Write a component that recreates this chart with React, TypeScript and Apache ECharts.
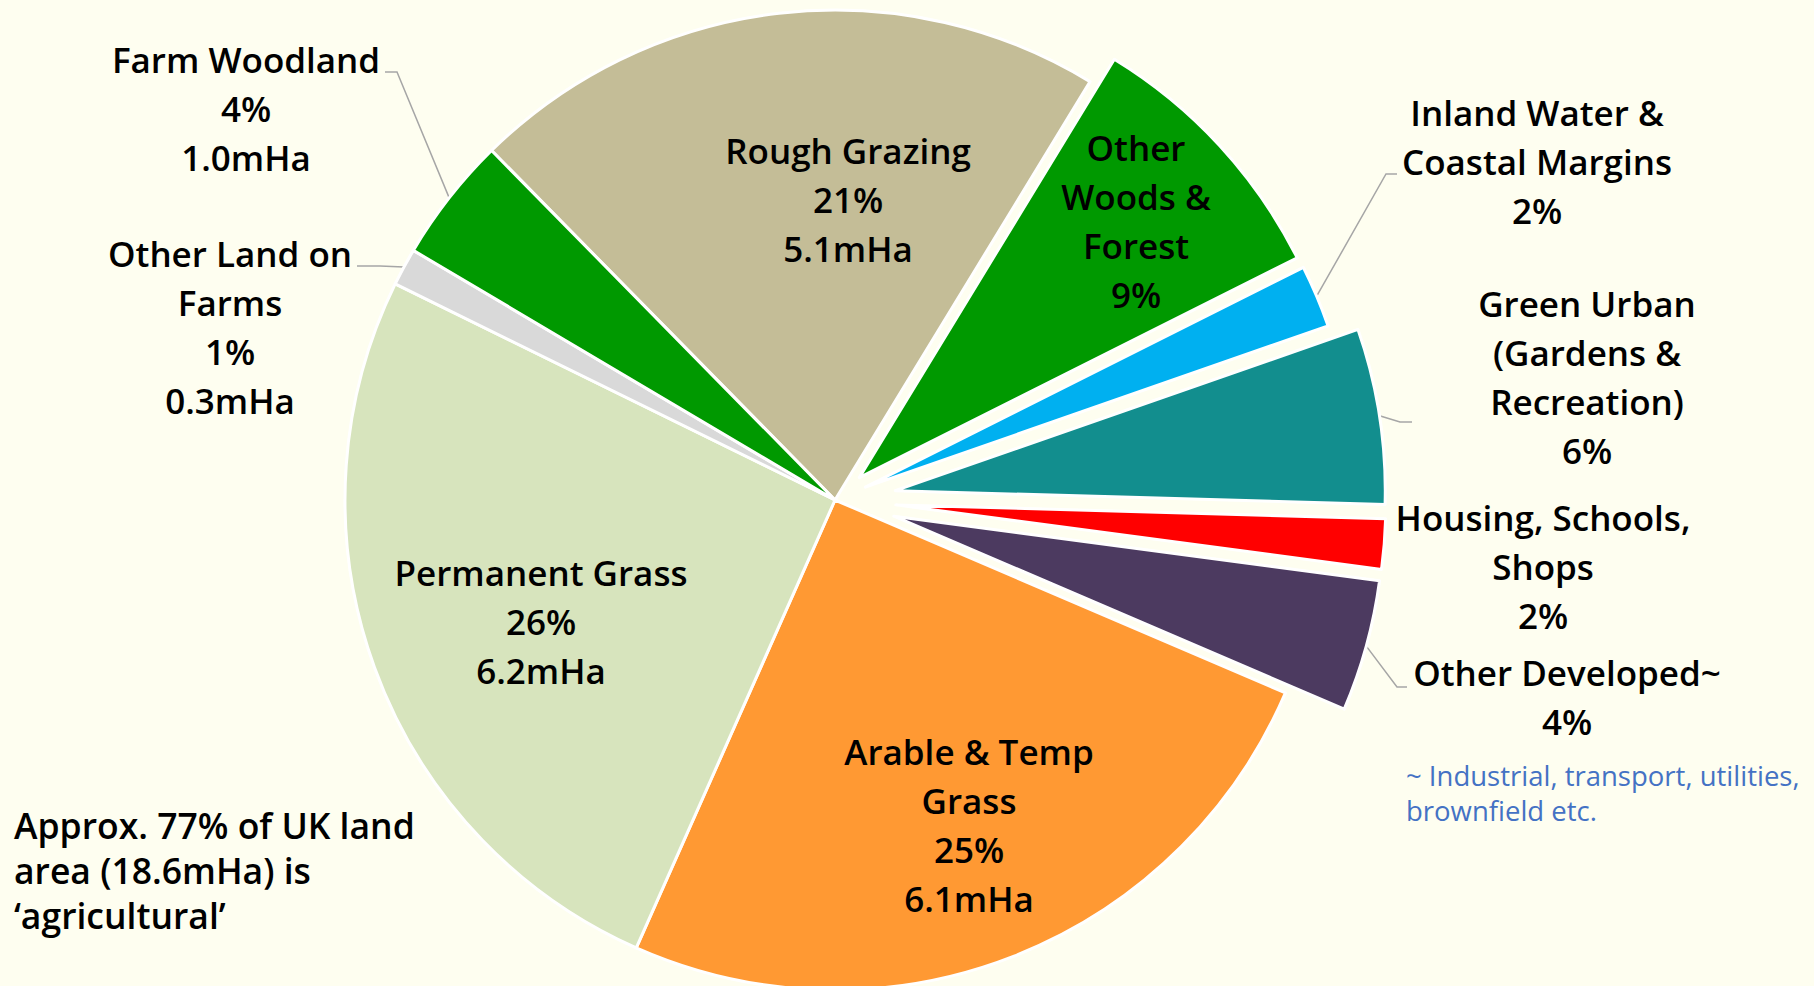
import React, { useEffect, useRef } from "react";
import * as echarts from "echarts";

// ---- data ----
const categories = [
  "Rough Grazing",
  "Other Woods & Forest",
  "Inland Water & Coastal Margins",
  "Green Urban (Gardens & Recreation)",
  "Housing, Schools, Shops",
  "Other Developed~",
  "Arable & Temp Grass",
  "Permanent Grass",
  "Other Land on Farms",
  "Farm Woodland",
];
const labelNames = [
  "Rough Grazing",
  "Other\nWoods &\nForest",
  "Inland Water &\nCoastal Margins",
  "Green Urban\n(Gardens &\nRecreation)",
  "Housing, Schools,\nShops",
  "Other Developed~",
  "Arable & Temp\nGrass",
  "Permanent Grass",
  "Other Land on\nFarms",
  "Farm Woodland",
];
const areaMHa = [5.1, 2.15, 0.5, 1.4, 0.4, 1.05, 6.1, 6.2, 0.3, 1.0];
const percentLabels = ["21%", "9%", "2%", "6%", "2%", "4%", "25%", "26%", "1%", "4%"];
const showArea = [true, false, false, false, false, false, true, true, true, true];
const agriNote = "Approx. 77% of UK land\narea (18.6mHa) is\n\u2018agricultural\u2019";
const devNote = "~ Industrial, transport, utilities,\nbrownfield etc.";

// ---- styles / layout ----
const sliceColors = [
  "#C4BD97", "#009900", "#00B0F0", "#128E8E", "#FF0000",
  "#4C3A60", "#FF9933", "#D7E4BD", "#D9D9D9", "#009900",
];
const explodeOffset = [0, 33, 33, 61, 61, 61, 0, 0, 0, 0];
const labelCenters: [number, number][] = [
  [848, 199], [1136, 221], [1537, 161], [1587, 377], [1543, 566],
  [1567, 697], [969, 825], [541, 621], [230, 327], [246, 108],
];
const leaderPoints: ([number, number][] | null)[] = [
  null, null,
  [[1386, 174], [1397, 174]],
  [[1400, 422], [1412, 422]],
  null,
  [[1397, 687], [1407, 687]],
  null, null,
  [[380, 266], [357, 266]],
  [[397, 72], [385, 72]],
];
const CX = 835, CY = 500, R = 490, START = 134.5;
const FONT = '"Open Sans", "Noto Sans", sans-serif';
const LABEL_SIZE = 35;
const LINE_H = 49;

function labelText(i: number) {
  return (
    labelNames[i] + "\n" + percentLabels[i] +
    (showArea[i] ? "\n" + areaMHa[i].toFixed(1) + "mHa" : "")
  );
}

function midAngles() {
  const total = areaMHa.reduce((a, b) => a + b, 0);
  let cum = 0;
  return areaMHa.map((v) => {
    const m = START - ((cum + v / 2) / total) * 360;
    cum += v;
    return m;
  });
}

function buildSeries(visible: number[], center: number[]) {
  return {
    type: "pie",
    center,
    radius: R,
    startAngle: START,
    clockwise: true,
    avoidLabelOverlap: false,
    silent: true,
    animation: false,
    emphasis: { disabled: true },
    itemStyle: { borderColor: "#ffffff", borderWidth: 3 },
    label: { show: false },
    labelLine: { show: false },
    data: categories.map((name, i) => {
      const vis = visible.includes(i);
      const hasLeader = leaderPoints[i] != null;
      return {
        name,
        value: areaMHa[i],
        itemStyle: vis
          ? { color: sliceColors[i], borderColor: "#ffffff", borderWidth: 3 }
          : { color: "rgba(0,0,0,0)", borderWidth: 0 },
        label: vis
          ? {
              show: true,
              position: hasLeader ? "outside" : "inside",
              formatter: () => labelText(i),
              color: "#000000",
              fontFamily: FONT,
              fontWeight: 600,
              fontSize: LABEL_SIZE,
              lineHeight: LINE_H,
              align: "center",
              textBorderWidth: 0,
            }
          : { show: false },
        labelLine: vis && hasLeader
          ? { show: true, length: 10, length2: 10, lineStyle: { color: "#A6A6A6", width: 1.5 } }
          : { show: false },
      };
    }),
    labelLayout: (params: any) => {
      const i = params.dataIndex;
      if (!visible.includes(i)) return {};
      const [x, y] = labelCenters[i];
      const res: any = { x, y, align: "center", verticalAlign: "middle" };
      const lp = leaderPoints[i];
      if (lp && params.labelLinePoints) {
        res.labelLinePoints = [params.labelLinePoints[0], lp[0], lp[1]];
      }
      return res;
    },
  };
}

export default function App() {
  const ref = useRef<HTMLDivElement>(null);
  useEffect(() => {
    if (!ref.current) return;
    const chart = echarts.init(ref.current, undefined, { renderer: "svg" });
    const mids = midAngles();
    const series: any[] = [];
    const base = categories.map((_, i) => i).filter((i) => explodeOffset[i] === 0);
    series.push(buildSeries(base, [CX, CY]));
    categories.forEach((_, i) => {
      const d = explodeOffset[i];
      if (d === 0) return;
      const a = (mids[i] * Math.PI) / 180;
      series.push(buildSeries([i], [CX + d * Math.cos(a), CY - d * Math.sin(a)]));
    });
    chart.setOption({
      animation: false,
      backgroundColor: "#FEFEF0",
      series,
      graphic: [
        {
          type: "text",
          x: 14,
          y: 870,
          silent: true,
          style: {
            text: agriNote,
            fontFamily: FONT,
            fontWeight: 600,
            fontSize: 35.5,
            lineHeight: 45,
            fill: "#000000",
            align: "left",
            verticalAlign: "middle",
          },
        },
        {
          type: "text",
          x: 1406,
          y: 793,
          silent: true,
          style: {
            text: devNote,
            fontFamily: FONT,
            fontWeight: 400,
            fontSize: 27.5,
            lineHeight: 35,
            fill: "#4472C4",
            align: "left",
            verticalAlign: "middle",
          },
        },
      ],
    });
    return () => chart.dispose();
  }, []);
  return (
    <div
      ref={ref}
      style={{ position: "fixed", left: 0, top: 0, width: 1814, height: 986 }}
    />
  );
}
